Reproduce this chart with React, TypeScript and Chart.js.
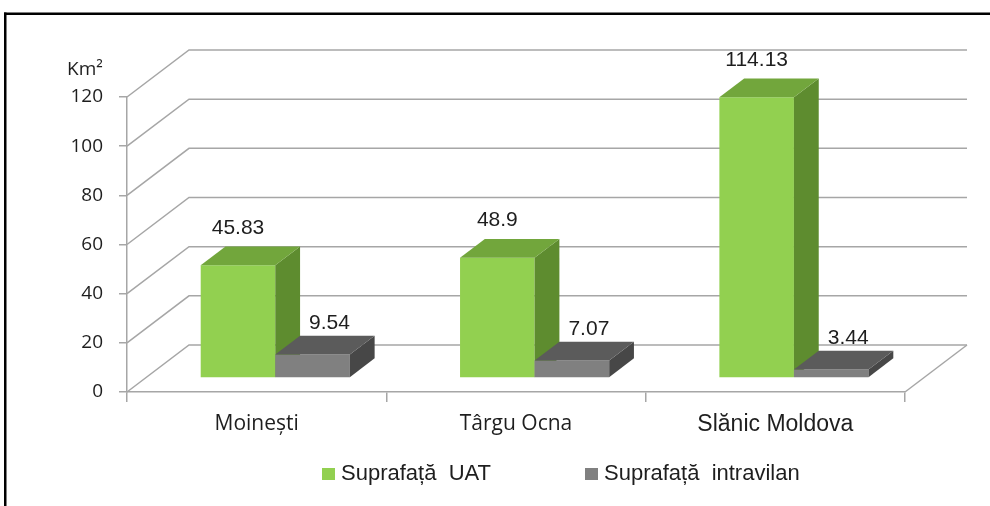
import React, { useEffect, useRef } from 'react';
import { Chart, registerables } from 'chart.js';

Chart.register(...registerables);

// ---- data ----
const categories = ['Moinești', 'Târgu Ocna', 'Slănic Moldova'];
const uatValues = [45.83, 48.9, 114.13];
const intravilanValues = [9.54, 7.07, 3.44];
const seriesNames = ['Suprafață  UAT', 'Suprafață  intravilan'];
const yMin = 0;
const yMax = 120;
const yStep = 20;
const unitLabel = 'Km²';

// ---- styles ----
const FRONT = ['#92d050', '#808080'];
const TOP = ['#72a63c', '#5b5b5b'];
const SIDE = ['#5e8c2f', '#474747'];
const GRID = '#a6a6a6';
const TEXT = '#1e1e1e';
const DEPTH = { x: 62, y: -47 };
const BAR_NEAR = 0.3;
const BAR_FAR = 0.7;
const LABEL_OFF = [
  { x: 0, y: -37 },
  { x: 17, y: -31 },
];
const SANS = '"Liberation Sans", Arial, sans-serif';
const OPEN = '"Open Sans", "Noto Sans", sans-serif';

const threeD = {
  id: 'threeD',
  beforeDraw(chart: any) {
    const { ctx, width, height } = chart;
    ctx.save();
    ctx.fillStyle = '#ffffff';
    ctx.fillRect(0, 0, width, height);
    ctx.fillStyle = '#000000';
    ctx.fillRect(4, 12.5, width - 4, 2.5);
    ctx.fillRect(4, 12.5, 2.5, height - 12.5);
    ctx.restore();
  },
  beforeDatasetsDraw(chart: any) {
    const { ctx, chartArea, scales } = chart;
    const y = scales.y;
    const L = chartArea.left;
    const R = chartArea.right;
    const B = chartArea.bottom;
    ctx.save();
    ctx.strokeStyle = GRID;
    ctx.lineWidth = 1.5;
    y.ticks.forEach((t: any) => {
      const py = y.getPixelForValue(t.value);
      ctx.beginPath();
      ctx.moveTo(L, py);
      ctx.lineTo(L + DEPTH.x, py + DEPTH.y);
      ctx.lineTo(R + DEPTH.x, py + DEPTH.y);
      ctx.stroke();
    });
    ctx.beginPath();
    ctx.moveTo(R, B);
    ctx.lineTo(R + DEPTH.x, B + DEPTH.y);
    ctx.stroke();
    ctx.fillStyle = TEXT;
    ctx.font = `19px ${OPEN}`;
    ctx.textAlign = 'left';
    ctx.textBaseline = 'middle';
    ctx.fillText(unitLabel, 67, 70);
    ctx.restore();
  },
  beforeDatasetDraw() {
    return false;
  },
  afterDatasetsDraw(chart: any) {
    const { ctx } = chart;
    const ox = DEPTH.x * BAR_NEAR;
    const oy = DEPTH.y * BAR_NEAR;
    const bx = DEPTH.x * (BAR_FAR - BAR_NEAR);
    const by = DEPTH.y * (BAR_FAR - BAR_NEAR);
    const labels: any[] = [];
    chart.data.datasets.forEach((ds: any, di: number) => {
      const meta = chart.getDatasetMeta(di);
      meta.data.forEach((bar: any, i: number) => {
        const { x, y, base, width } = bar.getProps(['x', 'y', 'base', 'width'], true);
        ctx.save();
        ctx.translate(ox, oy);
        bar.draw(ctx, chart.chartArea);
        ctx.restore();
        const l = x - width / 2 + ox;
        const r = x + width / 2 + ox;
        const t = y + oy;
        const b = base + oy;
        ctx.save();
        ctx.fillStyle = SIDE[di];
        ctx.beginPath();
        ctx.moveTo(r, t);
        ctx.lineTo(r + bx, t + by);
        ctx.lineTo(r + bx, b + by);
        ctx.lineTo(r, b);
        ctx.closePath();
        ctx.fill();
        ctx.fillStyle = TOP[di];
        ctx.beginPath();
        ctx.moveTo(l, t);
        ctx.lineTo(r, t);
        ctx.lineTo(r + bx, t + by);
        ctx.lineTo(l + bx, t + by);
        ctx.closePath();
        ctx.fill();
        ctx.restore();
        labels.push({
          text: String(ds.data[i]),
          x: x + ox + LABEL_OFF[di].x,
          y: t + LABEL_OFF[di].y,
        });
      });
    });
    ctx.save();
    ctx.fillStyle = TEXT;
    ctx.font = `21px ${SANS}`;
    ctx.textAlign = 'center';
    ctx.textBaseline = 'middle';
    labels.forEach((lb) => ctx.fillText(lb.text, lb.x, lb.y));
    ctx.restore();
  },
  afterDraw(chart: any) {
    const { ctx } = chart;
    const items = [
      { x: 322, color: FRONT[0], text: seriesNames[0] },
      { x: 585, color: FRONT[1], text: seriesNames[1] },
    ];
    const cy = 474;
    ctx.save();
    ctx.font = `22px ${SANS}`;
    ctx.textAlign = 'left';
    ctx.textBaseline = 'middle';
    items.forEach((it) => {
      ctx.fillStyle = it.color;
      ctx.fillRect(it.x, cy - 6, 13, 12);
      ctx.fillStyle = TEXT;
      ctx.fillText(it.text, it.x + 19, cy);
    });
    ctx.restore();
  },
};

export default function App() {
  const ref = useRef<HTMLCanvasElement | null>(null);
  useEffect(() => {
    let chart: any = null;
    let cancelled = false;
    const make = () => {
      if (cancelled || !ref.current) return;
      chart = new Chart(ref.current, {
        type: 'bar',
        data: {
          labels: categories,
          datasets: [
            { label: seriesNames[0], data: uatValues, backgroundColor: FRONT[0], borderWidth: 0 },
            { label: seriesNames[1], data: intravilanValues, backgroundColor: FRONT[1], borderWidth: 0 },
          ],
        },
        options: {
          responsive: false,
          animation: false,
          devicePixelRatio: 1,
          layout: { padding: { top: 97, right: 85, bottom: 0, left: 0 } },
          datasets: { bar: { categoryPercentage: 0.575, barPercentage: 1 } },
          plugins: { legend: { display: false }, tooltip: { enabled: false }, title: { display: false } },
          scales: {
            x: {
              offset: true,
              grid: { offset: true, drawOnChartArea: false, tickLength: 10, color: GRID, lineWidth: 1.5 },
              border: { display: true, color: GRID, width: 1.5 },
              ticks: {
                color: TEXT,
                padding: 9,
                maxRotation: 0,
                font: (c: any) =>
                  c.index === 2 ? { family: SANS, size: 23 } : { family: OPEN, size: 21 },
              },
              afterFit: (s: any) => {
                s.height = 114;
              },
            },
            y: {
              min: yMin,
              max: yMax,
              ticks: { stepSize: yStep, color: TEXT, padding: 16, font: { family: OPEN, size: 19 } },
              grid: { drawOnChartArea: false, tickLength: 8, color: GRID, lineWidth: 1.5 },
              border: { display: true, color: GRID, width: 1.5 },
              afterFit: (s: any) => {
                s.width = 127;
              },
            },
          },
        },
        plugins: [threeD],
      });
    };
    const fontsReady = (document as any).fonts
      ? Promise.all([
          (document as any).fonts.load(`20px "Open Sans"`),
          (document as any).fonts.load(`20px "Liberation Sans"`),
        ]).catch(() => null)
      : Promise.resolve(null);
    fontsReady.then(make);
    return () => {
      cancelled = true;
      if (chart) chart.destroy();
    };
  }, []);
  return (
    <div style={{ position: 'absolute', left: 0, top: 0, width: 990, height: 506, background: '#fff' }}>
      <canvas ref={ref} width={990} height={506} style={{ display: 'block' }} />
    </div>
  );
}
